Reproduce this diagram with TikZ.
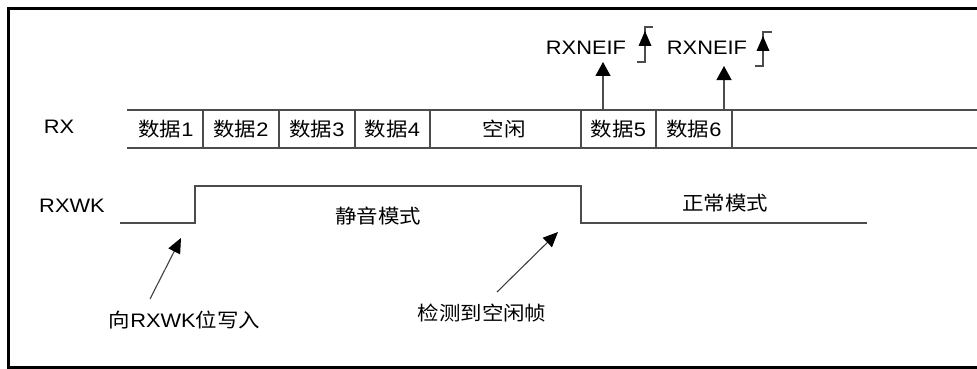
\documentclass[tikz,border=0pt]{standalone}
\usepackage{fontspec}
\setmainfont{Liberation Sans}[FakeStretch=1.12]
\newfontfamily\cjk{Noto Sans CJK SC}[FakeStretch=1.1]
\usetikzlibrary{arrows.meta}
\tikzset{
  sig/.style={draw=black!70, line width=1.3pt},
  frame/.style={draw=black, line width=3pt},
  lbl/.style={inner sep=0pt, font=\fontsize{19.5}{22}\selectfont},
  upar/.style={draw=black!70, line width=1.3pt, -{Triangle[length=14pt,width=15pt,fill=black,color=black]}},
  notear/.style={draw=black!75, line width=1.1pt, -{Triangle[length=15pt,width=13pt,fill=black,color=black]}},
  edge/.style={draw=black!70, line width=1.2pt},
  edgetip/.style={fill=black},
}
\begin{document}
\begin{tikzpicture}[x=1pt,y=-1pt]
\useasboundingbox (0,0) rectangle (977,369);
\clip (0,0) rectangle (977,369);
% frame
\draw[frame] (990,8.5) -- (8.5,8.5) -- (8.5,367) -- (990,367);
% labels
\node[lbl] (rx) at (59,127) {RX};
\node[lbl] (rxwk) at (72,206) {RXWK};
% RX bus
\coordinate (bt0) at (127,110);
\coordinate (bt1) at (990,110);
\coordinate (bb0) at (127,148);
\coordinate (bb1) at (990,148);
\draw[sig] (bt0) -- (bt1);
\draw[sig] (bb0) -- (bb1);
\foreach \x in {203,279,355,430,581,656,732}{
  \draw[sig] (\x,110) -- (\x,148);
}
\node[lbl] (d1) at (166,129) {{\cjk 数据}1};
\node[lbl] (d2) at (241,129) {{\cjk 数据}2};
\node[lbl] (d3) at (317,129) {{\cjk 数据}3};
\node[lbl] (d4) at (392.5,129) {{\cjk 数据}4};
\node[lbl] (idle) at (504,129) {\cjk 空闲};
\node[lbl] (d5) at (618.5,129) {{\cjk 数据}5};
\node[lbl] (d6) at (694,129) {{\cjk 数据}6};
% RXNEIF
\node[lbl] (f1) at (586,48) {RXNEIF};
\node[lbl] (f2) at (707,48) {RXNEIF};
\coordinate (a1s) at (603,110);
\coordinate (a1e) at (603,62);
\coordinate (a2s) at (724,110);
\coordinate (a2e) at (724,66);
\draw[upar] (a1s) -- (a1e);
\draw[upar] (a2s) -- (a2e);
% edge symbols
\draw[edge] (637,62) -- (645,62) -- (645,27) -- (653,27);
\fill[edgetip] (645,31) -- (651.5,46) -- (638.5,46) -- cycle;
\draw[edge] (755,66) -- (763,66) -- (763,32) -- (772,32);
\fill[edgetip] (763,36) -- (769.5,51) -- (756.5,51) -- cycle;
% RXWK waveform
\coordinate (w0) at (120,223);
\coordinate (w1) at (195,223);
\coordinate (w2) at (195,186);
\coordinate (w3) at (581,186);
\coordinate (w4) at (581,223);
\coordinate (w5) at (867,223);
\draw[sig] (w0) -- (w1) -- (w2) -- (w3) -- (w4) -- (w5);
\node[lbl] (mute) at (378,216) {\cjk 静音模式};
\node[lbl] (norm) at (725,203) {\cjk 正常模式};
% annotations
\node[lbl] (wr) at (184.5,320) {{\cjk 向}RXWK{\cjk 位写入}};
\node[lbl] (det) at (482,313) {\cjk 检测到空闲帧};
\coordinate (wrt) at (150,299);
\coordinate (wrh) at (181,238);
\coordinate (dtt) at (497,292);
\coordinate (dth) at (558,232);
\draw[notear] (wrt) -- (wrh);
\draw[notear] (dtt) -- (dth);
\end{tikzpicture}
\end{document}
